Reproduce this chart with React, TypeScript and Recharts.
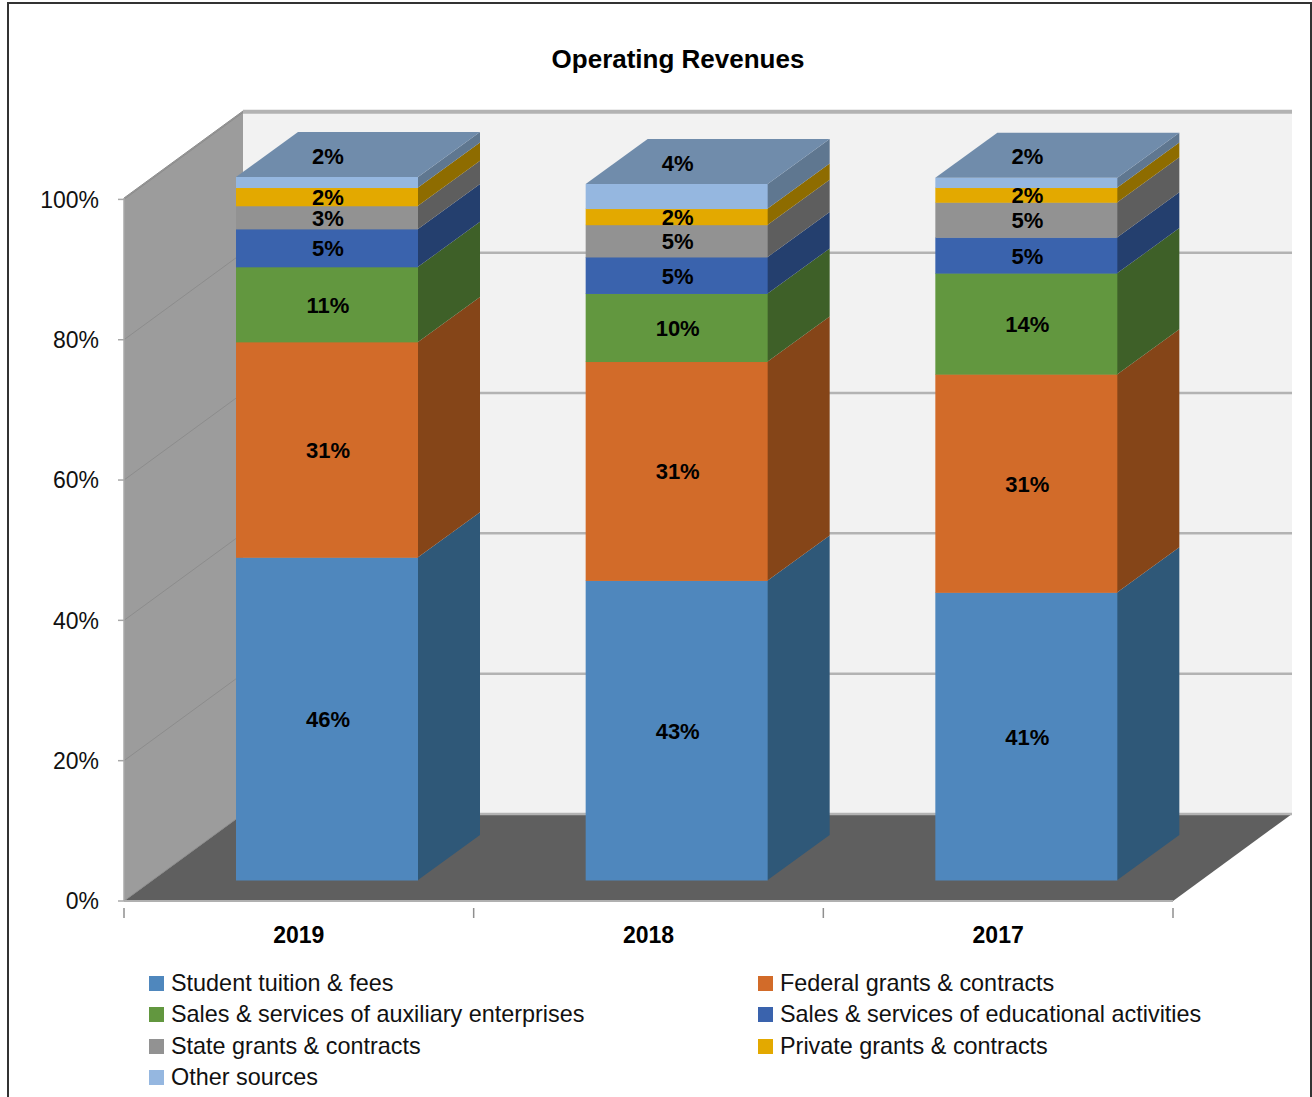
import React from 'react';
import { BarChart, Bar, XAxis, YAxis, CartesianGrid, LabelList, Legend } from 'recharts';

const categories = ['2019', '2018', '2017'];
const yTicks = [0, 20, 40, 60, 80, 100];

const seriesNames = [
  'Student tuition & fees',
  'Federal grants & contracts',
  'Sales & services of auxiliary enterprises',
  'Sales & services of educational activities',
  'State grants & contracts',
  'Private grants & contracts',
  'Other sources',
];

const tuition = [46, 42.7, 41];
const federal = [30.7, 31.2, 31.1];
const auxiliary = [10.7, 9.7, 14.4];
const educational = [5.4, 5.2, 5.1];
const state = [3.3, 4.6, 5];
const privateGrants = [2.6, 2.3, 2.1];
const other = [1.5, 3.5, 1.4];

const tuitionLabels = ['46%', '43%', '41%'];
const federalLabels = ['31%', '31%', '31%'];
const auxiliaryLabels = ['11%', '10%', '14%'];
const educationalLabels = ['5%', '5%', '5%'];
const stateLabels = ['3%', '5%', '5%'];
const privateLabels = ['2%', '2%', '2%'];
const otherLabels = ['2%', '4%', '2%'];

const seriesValues = [tuition, federal, auxiliary, educational, state, privateGrants, other];
const seriesLabels = [tuitionLabels, federalLabels, auxiliaryLabels, educationalLabels, stateLabels, privateLabels, otherLabels];

const frontColors = ['#4f87bd', '#d26b29', '#62973f', '#3a63ad', '#929292', '#e3a900', '#95b7e0'];
const sideColors = ['#2f5878', '#854518', '#3e6028', '#243f6e', '#5e5e5e', '#8e6c00', '#5f7790'];
const topColor = '#708cab';

const data = categories.map((year, i) => {
  const row: Record<string, string | number> = { year };
  seriesValues.forEach((vals, s) => {
    row[`s${s}`] = vals[i];
    row[`l${s}`] = seriesLabels[s][i];
  });
  return row;
});

// chart box, the plot rect is the front plane of the 3D box
const FONT = '"Liberation Sans", Arial, sans-serif';
const LEFT = 124;
const RIGHT = 1173;
const TOP = 198;
const BOTTOM = 901;
const DEPTH_X = 119;
const DEPTH_Y = 87;
// bars stand a bit inside the box
const BAR_X = 28;
const BAR_Y = 21;
const SIDE_X = 62;
const SIDE_Y = 45;

const Face3D = (s: number) => (props: any) => {
  const { x, y, width, height } = props;
  const l = x + BAR_X;
  const r = l + width;
  const t = y - BAR_Y;
  const b = t + height;
  return (
    <g>
      {/* side starts under the front face so no seam shows */}
      <polygon
        points={`${r - 1},${t} ${r},${t} ${r + SIDE_X},${t - SIDE_Y} ${r + SIDE_X},${b - SIDE_Y} ${r},${b} ${r - 1},${b}`}
        fill={sideColors[s]}
      />
      <rect x={l} y={t} width={width} height={height + 0.5} fill={frontColors[s]} />
      {s === seriesNames.length - 1 && (
        <polygon
          points={`${l},${t} ${l + SIDE_X},${t - SIDE_Y} ${r + SIDE_X},${t - SIDE_Y} ${r},${t}`}
          fill={topColor}
        />
      )}
    </g>
  );
};

const BarLabel = (s: number) => (props: any) => {
  const { x, y, width, height, value } = props;
  const cx = x + BAR_X + width / 2 + 1;
  // the top series carries its label on the roof of the bar
  const cy = s === seriesNames.length - 1 ? y - BAR_Y - 21 : y - BAR_Y + height / 2 + 1;
  return (
    <text x={cx} y={cy} textAnchor="middle" dominantBaseline="central" fontFamily={FONT} fontWeight="bold" fontSize={22} fill="#000">
      {value}
    </text>
  );
};

const GridLine = (props: any) => {
  const { x1, x2, y1 } = props;
  return (
    <g>
      <line x1={x1} y1={y1} x2={x1 + DEPTH_X} y2={y1 - DEPTH_Y} stroke="#8c8c8c" strokeWidth={1} />
      <line x1={x1 + DEPTH_X} y1={y1 - DEPTH_Y} x2={x2 + DEPTH_X} y2={y1 - DEPTH_Y} stroke="#b3b3b3" strokeWidth={2.5} />
    </g>
  );
};

// ticks sit between the categories, so they are drawn with the label
const YearTick = (props: any) => {
  const { x, y, payload, index } = props;
  const band = (RIGHT - LEFT) / categories.length;
  const tick = (tx: number) => <line x1={tx} y1={y - 1} x2={tx} y2={y + 9} stroke="#8f8f8f" strokeWidth={1.5} />;
  return (
    <g>
      {tick(x - band / 2)}
      {index === categories.length - 1 && tick(x + band / 2)}
      <text x={x} y={y + 34} textAnchor="middle" fontFamily={FONT} fontWeight="bold" fontSize={23} fill="#000">
        {payload.value}
      </text>
    </g>
  );
};

const LegendBox = () => (
  <div style={{ display: 'grid', gridTemplateColumns: '609px 1fr', fontFamily: FONT, fontSize: 23.4, color: '#111', lineHeight: '31.3px', whiteSpace: 'nowrap' }}>
    {seriesNames.map((name, s) => (
      <div key={name} style={{ display: 'flex', alignItems: 'center' }}>
        <span style={{ width: 15, height: 15, background: frontColors[s], marginRight: 7, display: 'inline-block' }} />
        {name}
      </div>
    ))}
  </div>
);

export default function App() {
  return (
    <div style={{ position: 'absolute', left: 0, top: 0, width: 1312, height: 1097, overflow: 'hidden', background: '#fff' }}>
      <div style={{ position: 'absolute', left: 7, top: 2, width: 1301, height: 1200, border: '2px solid #333' }} />
      <div style={{ position: 'absolute', left: 0, right: 0, top: 44, paddingLeft: 44, textAlign: 'center', fontFamily: FONT, fontWeight: 'bold', fontSize: 26, color: '#000', boxSizing: 'border-box' }}>
        Operating Revenues
      </div>
      {/* walls and floor of the box, behind the chart */}
      <svg width={1312} height={1097} style={{ position: 'absolute', left: 0, top: 0 }}>
        <polygon points={`${LEFT},${TOP} ${LEFT + DEPTH_X},${TOP - DEPTH_Y} ${LEFT + DEPTH_X},${BOTTOM - DEPTH_Y} ${LEFT},${BOTTOM}`} fill="#9c9c9c" />
        <rect x={LEFT + DEPTH_X} y={TOP - DEPTH_Y} width={RIGHT - LEFT} height={BOTTOM - TOP} fill="#f2f2f2" />
        <polygon points={`${LEFT},${BOTTOM} ${LEFT + DEPTH_X},${BOTTOM - DEPTH_Y} ${RIGHT + DEPTH_X},${BOTTOM - DEPTH_Y} ${RIGHT},${BOTTOM}`} fill="#5f5f5f" />
      </svg>
      <div style={{ position: 'absolute', left: 0, top: 0 }}>
        <BarChart
          width={1312}
          height={1097}
          data={data}
          margin={{ top: TOP, right: 1312 - RIGHT, bottom: 146, left: 64 }}
          barCategoryGap={84}
        >
          <CartesianGrid vertical={false} horizontal={GridLine as any} />
          <XAxis
            dataKey="year"
            height={50}
            stroke="#b0b0b0"
            strokeWidth={2}
            tickLine={false}
            interval={0}
            tick={YearTick}
          />
          <YAxis
            width={60}
            domain={[0, 100]}
            ticks={yTicks}
            stroke="#a8a8a8"
            strokeWidth={1.5}
            tickSize={6}
            tickMargin={19}
            tickFormatter={(v: number) => `${v}%`}
            tick={{ fontFamily: FONT, fontSize: 23, fill: '#111' }}
          />
          {seriesNames.map((name, s) => (
            <Bar key={name} dataKey={`s${s}`} name={name} stackId="a" fill={frontColors[s]} shape={Face3D(s)} isAnimationActive={false}>
              <LabelList dataKey={`l${s}`} content={BarLabel(s)} />
            </Bar>
          ))}
          <Legend content={LegendBox} wrapperStyle={{ position: 'absolute', left: 149, top: 968, width: 1100, height: 0 }} />
        </BarChart>
      </div>
    </div>
  );
}
